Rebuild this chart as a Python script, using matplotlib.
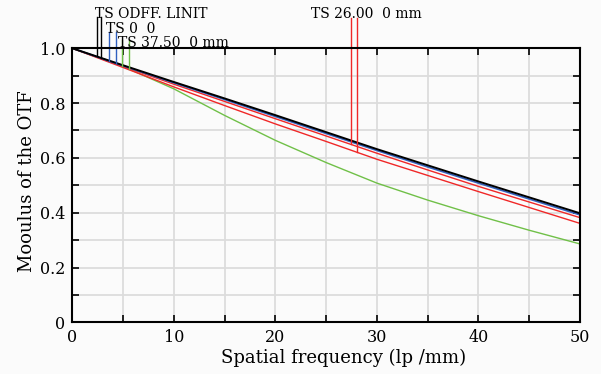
import matplotlib
matplotlib.use('Agg')
import matplotlib.pyplot as plt
import numpy as np

plt.rcParams['font.family'] = ['DejaVu Serif']

# spatial frequency samples (lp/mm)
freq = [0, 5, 10, 15, 20, 25, 30, 35, 40, 45, 50]

# MTF curves
diff_limit = [1.000, 0.938, 0.877, 0.817, 0.756, 0.694, 0.632, 0.573, 0.514, 0.456, 0.398]
ts_0 = [1.000, 0.936, 0.874, 0.813, 0.751, 0.689, 0.627, 0.567, 0.508, 0.450, 0.392]
ts_26_t = [1.000, 0.934, 0.869, 0.806, 0.743, 0.680, 0.617, 0.556, 0.496, 0.439, 0.382]
ts_26_s = [1.000, 0.930, 0.859, 0.791, 0.724, 0.660, 0.595, 0.536, 0.477, 0.419, 0.361]
ts_37 = [1.000, 0.934, 0.852, 0.755, 0.664, 0.583, 0.508, 0.446, 0.389, 0.336, 0.286]

# field markers: frequency where the little vertical tag sits
mark_diff = [2.4, 2.8]
mark_0 = [3.65, 4.3]
mark_37 = [4.93, 5.57]
mark_26 = [27.4, 28.0]

labels = ['TS ODFF. LINIT', 'TS 0  0', 'TS 37.50  0 mm', 'TS 26.00  0 mm']

c_black = '#000000'
c_blue = '#3060c0'
c_red = '#f02828'
c_green = '#70c048'

fig = plt.figure(figsize=(6.01, 3.74), dpi=100, facecolor='#fbfbfb')
ax = fig.add_axes([0.1203, 0.1382, 0.8447, 0.7327])
ax.set_facecolor('#fbfbfb')

ax.plot(freq, ts_37, color=c_green, lw=1.0)
ax.plot(freq, ts_26_s, color=c_red, lw=1.0)
ax.plot(freq, ts_26_t, color=c_red, lw=1.0)
ax.plot(freq, ts_0, color=c_blue, lw=1.2)
ax.plot(freq, diff_limit, color=c_black, lw=1.4)


def tag(xs, curves, top, color):
    for x, curve in zip(xs, curves):
        y0 = np.interp(x, freq, curve)
        ax.plot([x, x], [y0, top], color=color, lw=1.0, clip_on=False)


tag(mark_diff, [diff_limit, diff_limit], 1.115, c_black)
tag(mark_0, [ts_0, ts_0], 1.06, c_blue)
tag(mark_37, [ts_37, ts_37], 1.03, c_green)
tag(mark_26, [ts_26_t, ts_26_s], 1.11, c_red)

fig.text(0.158, 0.952, labels[0], fontsize=10, va='baseline')
fig.text(0.176, 0.912, labels[1], fontsize=10, va='baseline')
fig.text(0.197, 0.875, labels[2], fontsize=10, va='baseline')
fig.text(0.517, 0.952, labels[3], fontsize=10, va='baseline')

ax.set_xlim(0, 50)
ax.set_ylim(0, 1.0)
ax.set_xticks([0, 10, 20, 30, 40, 50])
ax.set_xticks([5, 15, 25, 35, 45], minor=True)
ax.set_yticks([0, 0.2, 0.4, 0.6, 0.8, 1.0])
ax.set_yticklabels(['0', '0.2', '0.4', '0.6', '0.8', '1.0'])
ax.set_yticks([0.1, 0.3, 0.5, 0.7, 0.9], minor=True)
ax.tick_params(which='both', direction='in', length=5, width=1.2,
               top=True, right=True, labelsize=11.5, pad=5)
ax.grid(True, which='both', color='#dcdcdc', lw=1.3)
ax.set_axisbelow(True)
for s in ax.spines.values():
    s.set_linewidth(1.5)

ax.set_xlabel('Spatial frequency (lp /mm)', fontsize=13)
ax.set_ylabel('Mooulus of the OTF', fontsize=13)
ax.xaxis.set_label_coords(0.535, -0.095)
ax.yaxis.set_label_coords(-0.072, 0.517)

fig.savefig('out.png', dpi=100, facecolor=fig.get_facecolor())
